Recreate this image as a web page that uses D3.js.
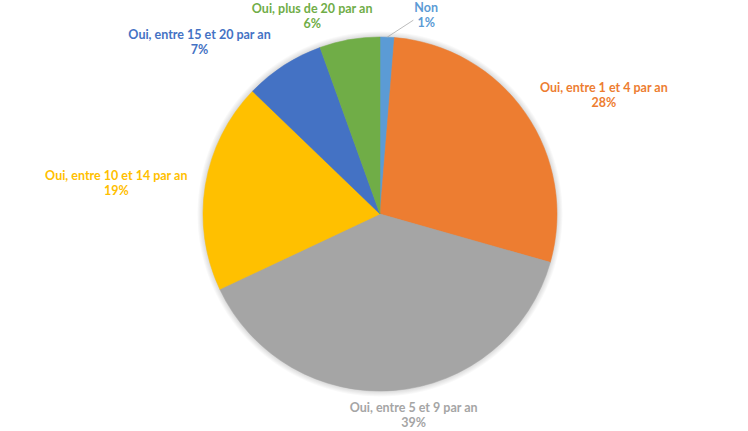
<!DOCTYPE html>
<html>
<head>
<meta charset="utf-8">
<script src="https://cdn.jsdelivr.net/npm/d3@7"></script>
<style>
  body { margin: 0; background: #fff; }
  svg { display: block; }
  text { font-family: Lato, "Open Sans", sans-serif; font-weight: bold; font-size: 12.5px; }
</style>
</head>
<body>
<div id="chart"></div>
<script>
const categories = ['Non', 'Oui, entre 1 et 4 par an', 'Oui, entre 5 et 9 par an',
  'Oui, entre 10 et 14 par an', 'Oui, entre 15 et 20 par an', 'Oui, plus de 20 par an'];
const values = [1.3, 28.1, 38.6, 19.2, 7.3, 5.5];
const pctLabels = ['1%', '28%', '39%', '19%', '7%', '6%'];
const colors = ['#5B9BD5', '#ED7D31', '#A5A5A5', '#FFC000', '#4472C4', '#70AD47'];

const width = 748;
const height = 431;
const cx = 380;
const cy = 214;
const radius = 177;

// labels were dragged by hand in the source chart, so nudge them the same way
const labelNudge = [[38, 5], [16, -3], [13, -2], [-7, 2], [-39, -1], [-25, 3]];

const svg = d3.select('#chart').append('svg')
  .attr('width', width)
  .attr('height', height);

// soft shadow as a radial fade just outside the pie edge
const shadowR = radius + 6;
const grad = svg.append('defs').append('radialGradient')
  .attr('id', 'shade')
  .attr('gradientUnits', 'userSpaceOnUse')
  .attr('cx', 0).attr('cy', 0).attr('r', shadowR);
grad.append('stop').attr('offset', (radius - 3) / shadowR).attr('stop-color', '#000').attr('stop-opacity', 0.3);
grad.append('stop').attr('offset', (radius + 1) / shadowR).attr('stop-color', '#000').attr('stop-opacity', 0.12);
grad.append('stop').attr('offset', 1).attr('stop-color', '#000').attr('stop-opacity', 0);

const data = categories.map((c, i) => ({ name: c, value: values[i], label: pctLabels[i], color: colors[i] }));

const pie = d3.pie()
  .sort(null)
  .value(d => d.value);

const arc = d3.arc()
  .innerRadius(0)
  .outerRadius(radius);

const arcs = pie(data);

const g = svg.append('g')
  .attr('transform', `translate(${cx},${cy})`);

g.append('circle')
  .attr('cx', 0)
  .attr('cy', 0)
  .attr('r', shadowR)
  .attr('fill', 'url(#shade)');

g.append('g')
  .selectAll('path')
  .data(arcs)
  .enter()
  .append('path')
  .attr('d', arc)
  .attr('fill', d => d.data.color)
  .attr('stroke', d => d.data.color)
  .attr('stroke-width', 0.5)
  .attr('stroke-linejoin', 'round');

// labels placed outside the end of each slice
const gap = 12;
const labels = g.append('g').selectAll('text')
  .data(arcs)
  .enter()
  .append('text')
  .attr('text-anchor', 'middle')
  .attr('fill', d => d.data.color);

labels.append('tspan').attr('x', 0).attr('dy', 0).text(d => d.data.name);
labels.append('tspan').attr('x', 0).attr('dy', 15).text(d => d.data.label);

labels.each(function(d, i) {
  const box = this.getBBox();
  const a = (d.startAngle + d.endAngle) / 2;
  const s = Math.sin(a);
  const c = -Math.cos(a);
  const px = (radius + gap) * s + s * box.width / 2 + labelNudge[i][0];
  const py = (radius + gap) * c + c * box.height / 2 + labelNudge[i][1];
  d.lx = px;
  d.ly = py;
  d.bw = box.width;
  d3.select(this).attr('transform', `translate(${px},${py - box.y - box.height / 2})`);
});

// leader line for the small slice whose label was moved away
const small = arcs.filter(d => d.data.value < 2);
g.append('g').selectAll('line')
  .data(small)
  .enter()
  .append('line')
  .attr('x1', d => radius * Math.sin((d.startAngle + d.endAngle) / 2))
  .attr('y1', d => -radius * Math.cos((d.startAngle + d.endAngle) / 2))
  .attr('x2', d => d.lx - d.bw / 2 - 1)
  .attr('y2', d => d.ly + 5)
  .attr('stroke', '#a6a6a6')
  .attr('stroke-width', 0.75);
</script>
</body>
</html>
